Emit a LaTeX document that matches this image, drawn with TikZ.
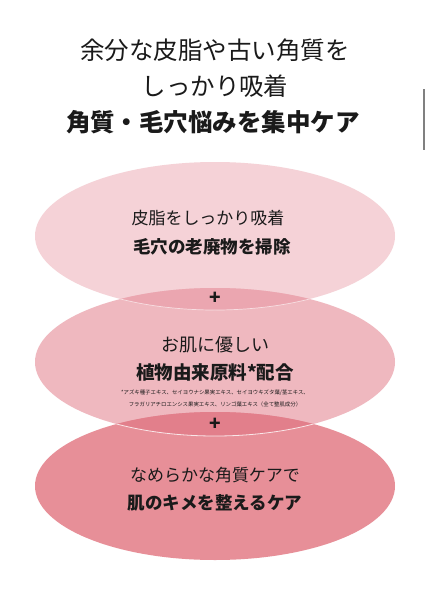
\documentclass[tikz,border=0pt]{standalone}
\usepackage{fontspec}
\setmainfont{Noto Sans CJK JP}
\usetikzlibrary{shapes.geometric, positioning}
\definecolor{ovalpale}{RGB}{245,210,215}
\definecolor{ovalmid}{RGB}{239,184,191}
\definecolor{ovaldeep}{RGB}{231,143,152}
\definecolor{overlapup}{RGB}{235,166,176}
\definecolor{overlapdown}{RGB}{226,127,139}
\definecolor{inktext}{RGB}{26,26,26}

\begin{document}
\begin{tikzpicture}[
    x=1pt, y=-1pt,
    oval/.style={ellipse, minimum width=360pt, minimum height=148pt, inner sep=0pt},
    heading/.style={text=inktext, font=\fontsize{24.5}{28}\selectfont, inner sep=0pt},
    mainline/.style={text=inktext, font=\fontsize{17}{20}\selectfont, inner sep=0pt},
    boldline/.style={text=inktext, font=\bfseries\fontsize{17.5}{20}\selectfont, inner sep=0pt},
    notetext/.style={text=inktext, font=\fontsize{5.4}{12.5}\selectfont, align=center, inner sep=0pt},
    plussign/.style={text=inktext, font=\bfseries\fontsize{19}{20}\selectfont, inner sep=0pt}
]
    \useasboundingbox (0,0) rectangle (430,590);
    \fill[white] (0,0) rectangle (430,590);

    % three ovals
    \node[oval, fill=ovalpale] (sebum) at (215,236) {};
    \node[oval, fill=ovalmid] (plant) at (215,362) {};
    \node[oval, fill=ovaldeep] (texture) at (215,486) {};

    % darker overlaps
    \begin{scope}
        \clip (215,236) ellipse [x radius=180, y radius=74];
        \fill[overlapup] (215,362) ellipse [x radius=180, y radius=74];
    \end{scope}
    \begin{scope}
        \clip (215,362) ellipse [x radius=180, y radius=74];
        \fill[overlapdown] (215,486) ellipse [x radius=180, y radius=74];
    \end{scope}
    \begin{scope}
        \clip (215,362) ellipse [x radius=180, y radius=74];
        \draw[white, line width=0.7pt, opacity=0.6] (215,236) ellipse [x radius=180, y radius=74];
    \end{scope}
    \begin{scope}
        \clip (215,486) ellipse [x radius=180, y radius=74];
        \draw[white, line width=0.8pt, opacity=0.8] (215,362) ellipse [x radius=180, y radius=74];
    \end{scope}

    % scroll bar
    \draw[gray, line width=2pt] (424,89) -- (424,150);

    % heading
    \node[heading] (head1) at (215,50) {余分な皮脂や古い角質を};
    \node[heading] (head2) at (215,86) {しっかり吸着};
    \node[heading, font=\bfseries\fontsize{24.5}{28}\selectfont] (head3) at (213,122) {角質・毛穴悩みを集中ケア};

    % first oval
    \node[mainline] (sebum1) at (208,218) {皮脂をしっかり吸着};
    \node[boldline] (sebum2) at (212,247) {毛穴の老廃物を掃除};

    \node[plussign] (plus1) at (215,298) {+};

    % second oval
    \node[mainline, font=\fontsize{18}{20}\selectfont] (plant1) at (215,345) {お肌に優しい};
    \node[boldline, font=\bfseries\fontsize{18.5}{20}\selectfont] (plant2) at (215,372) {植物由来原料*配合};
    \node[notetext] (plant3) at (215,398.5) {*アズキ種子エキス、セイヨウナシ果実エキス、セイヨウキズタ葉/茎エキス、\\フラガリアチロエンシス果実エキス、リンゴ葉エキス（全て整肌成分）};

    \node[plussign] (plus2) at (215,424) {+};

    % third oval
    \node[mainline] (texture1) at (215,475) {なめらかな角質ケアで};
    \node[boldline] (texture2) at (215,503) {肌のキメを整えるケア};
\end{tikzpicture}
\end{document}
